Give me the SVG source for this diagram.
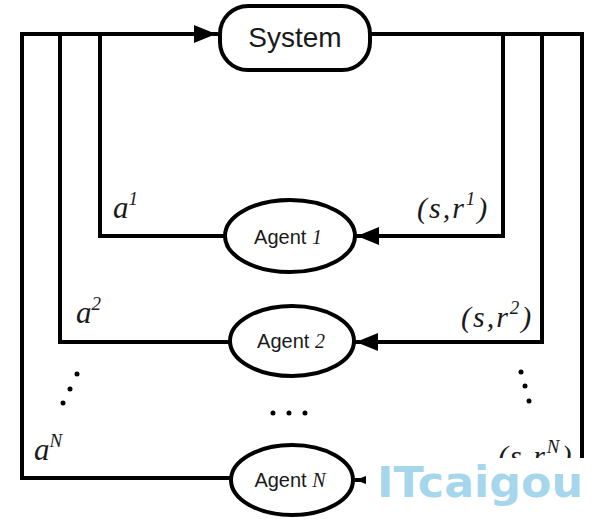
<svg xmlns="http://www.w3.org/2000/svg" width="600" height="523" viewBox="0 0 600 523">
<style>
.ln{fill:none;stroke:#000;stroke-width:4;stroke-linejoin:miter;stroke-linecap:square}
.nd{fill:#fff;stroke:#000;stroke-width:4}
.sans{font-family:"Liberation Sans",Arial,sans-serif;fill:#1a1a1a}
.lbl{font-family:"Liberation Serif","Times New Roman",serif;font-style:italic;fill:#1a1a1a}
.sr{letter-spacing:2px}
.dot{fill:#000}
</style>
<defs>
<marker id="ah" markerUnits="userSpaceOnUse" markerWidth="24" markerHeight="20" refX="22" refY="9" orient="auto">
<path d="M0,0 L22,9 L0,18 Z" fill="#000"/>
</marker>
<clipPath id="cut"><rect x="0" y="0" width="600" height="458"/></clipPath>
</defs>
<rect width="600" height="523" fill="#fff"/>
<g id="connectors">
<path class="ln" d="M22,477 L22,34 L216,34" marker-end="url(#ah)"/>
<path class="ln" d="M60,342 L60,34"/>
<path class="ln" d="M100,236 L100,34"/>
<path class="ln" d="M100,236 L225,236"/>
<path class="ln" d="M60,342 L230,342"/>
<path class="ln" d="M22,478 L232,478"/>
<path class="ln" d="M370,34 L582,34 L582,480 L356,480" marker-end="url(#ah)"/>
<path class="ln" d="M542,34 L542,342 L356,342" marker-end="url(#ah)"/>
<path class="ln" d="M503,34 L503,236 L357,236" marker-end="url(#ah)"/>
</g>
<g id="system">
<rect class="nd" x="220" y="6" width="150" height="64" rx="28" ry="28" stroke-width="3.5"/>
<text class="sans" x="295" y="47" font-size="28" text-anchor="middle">System</text>
</g>
<g id="agent1">
<ellipse class="nd" cx="290" cy="236" rx="65" ry="36"/>
<text class="sans" x="288" y="244" font-size="20" text-anchor="middle">Agent <tspan class="lbl">1</tspan></text>
</g>
<g id="agent2">
<ellipse class="nd" cx="292" cy="341" rx="62" ry="35"/>
<text class="sans" x="291" y="348" font-size="20" text-anchor="middle">Agent <tspan class="lbl">2</tspan></text>
</g>
<g id="agentN">
<ellipse class="nd" cx="292" cy="480" rx="61" ry="35"/>
<text class="sans" x="290" y="487" font-size="20" text-anchor="middle">Agent <tspan class="lbl">N</tspan></text>
</g>
<g id="labels">
<text class="lbl" x="113" y="218" font-size="31">a<tspan font-size="19" dy="-13">1</tspan></text>
<text class="lbl" x="76" y="323" font-size="31">a<tspan font-size="19" dy="-13">2</tspan></text>
<text class="lbl" x="34" y="460" font-size="31">a<tspan font-size="19" dy="-13">N</tspan></text>
<text class="lbl sr" x="417" y="218" font-size="30">(s,r<tspan font-size="19" dy="-13">1</tspan><tspan dy="13">)</tspan></text>
<text class="lbl sr" x="461" y="327" font-size="30">(s,r<tspan font-size="19" dy="-13">2</tspan><tspan dy="13">)</tspan></text>
<text class="lbl sr" x="498" y="466" font-size="30" clip-path="url(#cut)">(s,r<tspan font-size="19" dy="-13">N</tspan><tspan dy="13">)</tspan></text>
</g>
<g id="ellipsis">
<circle class="dot" cx="77" cy="374" r="2.5"/>
<circle class="dot" cx="70" cy="389" r="2.5"/>
<circle class="dot" cx="63" cy="403" r="2.5"/>
<circle class="dot" cx="521" cy="372" r="2.5"/>
<circle class="dot" cx="525" cy="386" r="2.5"/>
<circle class="dot" cx="529" cy="401" r="2.5"/>
<circle class="dot" cx="273" cy="413" r="2.5"/>
<circle class="dot" cx="289" cy="413" r="2.5"/>
<circle class="dot" cx="305" cy="413" r="2.5"/>
</g>
<g id="watermark">
<rect x="366" y="458" width="234" height="52" fill="#fff"/>
<text x="377" y="497" font-family="DejaVu Sans,sans-serif" font-weight="bold" font-size="42" fill="#a6d6ec" textLength="206" lengthAdjust="spacingAndGlyphs">ITcaigou</text>
</g>
</svg>
